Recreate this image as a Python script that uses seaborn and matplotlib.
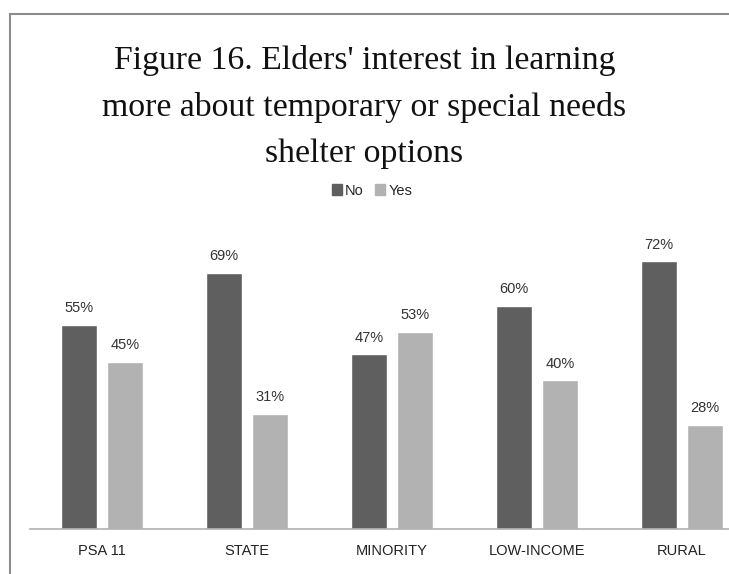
import matplotlib
matplotlib.use("Agg")
import matplotlib.pyplot as plt
from matplotlib.lines import Line2D
import pandas as pd
import seaborn as sns

categories = ["PSA 11", "STATE", "MINORITY", "LOW-INCOME", "RURAL"]
no_vals = [55, 69, 47, 60, 72]
yes_vals = [45, 31, 53, 40, 28]
series = ["No", "Yes"]
colors = ["#5f5f5f", "#b2b2b2"]

df = pd.DataFrame({
    "group": categories * 2,
    "answer": ["No"] * len(categories) + ["Yes"] * len(categories),
    "pct": no_vals + yes_vals,
})

sns.set_style("white")
plt.rcParams["font.family"] = ["Liberation Sans", "DejaVu Sans"]

fig = plt.figure(figsize=(7.29, 5.74), dpi=100)
ax = fig.add_axes([0.0405, 0.0784, 0.9945, 0.518])

sns.barplot(data=df, x="group", y="pct", hue="answer", order=categories,
            hue_order=series, palette=colors, width=0.634, gap=0.217,
            saturation=1, legend=False, ax=ax)

for cont in ax.containers:
    ax.bar_label(cont, fmt="%d%%", padding=7, fontsize=10.5, color="#333333")

ax.set_ylim(0, 80)
ax.set_xlim(-0.5, 4.5)
ax.set_xlabel("")
ax.set_ylabel("")
ax.set_yticks([])
ax.tick_params(axis="x", length=0, pad=11, labelsize=10.5, labelcolor="#222222")
for s in ["top", "left", "right"]:
    ax.spines[s].set_visible(False)
ax.spines["bottom"].set_color("#b0b0b0")
ax.spines["bottom"].set_linewidth(1.2)

# legend
handles = [plt.Rectangle((0, 0), 1, 1, color=c) for c in colors]
fig.legend(handles, series, loc="center", bbox_to_anchor=(0.51, 0.668),
           ncol=2, frameon=False, fontsize=10.5, handlelength=0.7,
           handleheight=0.7, handletextpad=0.2, columnspacing=0.8)

# title
fig.text(0.5, 1 - 45 / 574, "Figure 16. Elders' interest in learning\n"
         "more about temporary or special needs\nshelter options",
         ha="center", va="top", fontsize=24.3, linespacing=1.66,
         family=["Liberation Serif", "DejaVu Serif"], color="#111111")

# frame border (grey, partially cropped)
fig.add_artist(Line2D([10 / 729, 10 / 729], [0, 1 - 14 / 574],
                      color="#8c8c8c", lw=1.5, transform=fig.transFigure))
fig.add_artist(Line2D([10 / 729, 1], [1 - 14 / 574, 1 - 14 / 574],
                      color="#8c8c8c", lw=1.5, transform=fig.transFigure))

fig.savefig("out.png", dpi=100)
